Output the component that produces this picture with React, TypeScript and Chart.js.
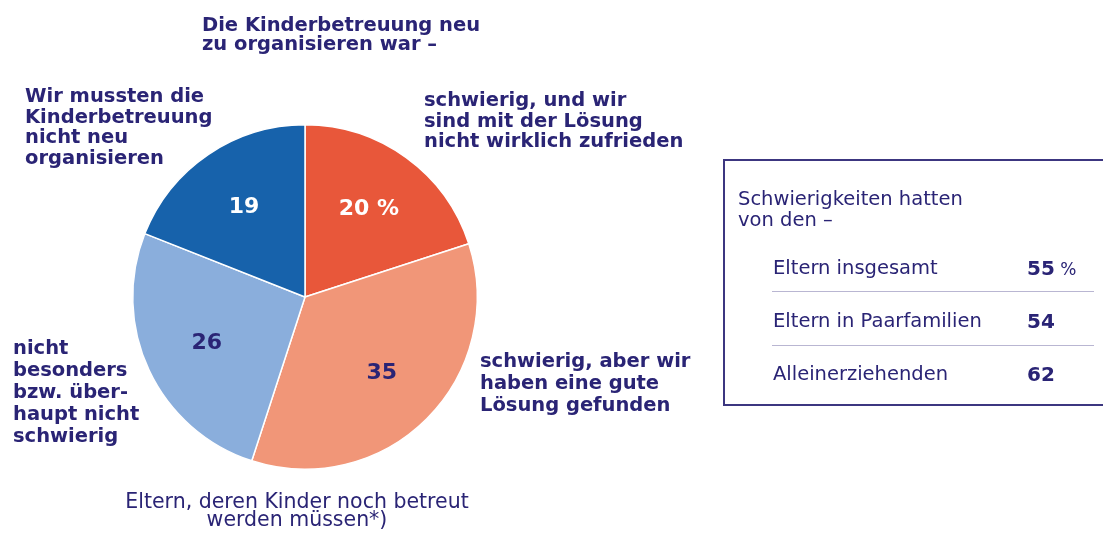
import React, { useEffect, useRef } from "react";
import { Chart, registerables } from "chart.js";

Chart.register(...registerables);

// ---- data ----
const categories = [
  "schwierig, und wir sind mit der Lösung nicht wirklich zufrieden",
  "schwierig, aber wir haben eine gute Lösung gefunden",
  "nicht besonders bzw. überhaupt nicht schwierig",
  "Wir mussten die Kinderbetreuung nicht neu organisieren",
];
const shares = [20, 35, 26, 19];
const shareUnit = [" %", "", "", ""];
const sliceColors = ["#E8573A", "#F19678", "#8AAEDC", "#1762AB"];
const sliceLabelColors = ["#ffffff", "#2A2475", "#2A2475", "#ffffff"];

const titleLines = ["Die Kinderbetreuung neu", "zu organisieren war –"];
const labelLines = [
  ["schwierig, und wir", "sind mit der Lösung", "nicht wirklich zufrieden"],
  ["schwierig, aber wir", "haben eine gute", "Lösung gefunden"],
  ["nicht", "besonders", "bzw. über-", "haupt nicht", "schwierig"],
  ["Wir mussten die", "Kinderbetreuung", "nicht neu", "organisieren"],
];
const captionLines = ["Eltern, deren Kinder noch betreut", "werden müssen*)"];

const boxTitleLines = ["Schwierigkeiten hatten", "von den –"];
const boxGroups = ["Eltern insgesamt", "Eltern in Paarfamilien", "Alleinerziehenden"];
const boxValues = [55, 54, 62];
const boxUnits = ["%", "", ""];

// ---- styles ----
const INK = "#2A2475";
const FONT = "'DejaVu Sans', sans-serif";

const labelPos = [
  { left: 424, top: 90, lh: 20.5 },
  { left: 480, top: 350, lh: 22 },
  { left: 13, top: 337, lh: 22 },
  { left: 25, top: 86, lh: 20.5 },
];

const sliceLabelPlugin = {
  id: "sliceLabels",
  afterDatasetsDraw(chart: any) {
    const meta = chart.getDatasetMeta(0);
    const ds = chart.data.datasets[0];
    const ctx = chart.ctx;
    ctx.save();
    ctx.font = `bold 22px ${FONT}`;
    ctx.textAlign = "center";
    ctx.textBaseline = "middle";
    meta.data.forEach((arc: any, i: number) => {
      const p = arc.getProps(["x", "y", "startAngle", "endAngle", "outerRadius"], true);
      const mid = (p.startAngle + p.endAngle) / 2;
      const r = p.outerRadius * 0.63;
      ctx.fillStyle = sliceLabelColors[i];
      ctx.fillText(String(ds.data[i]) + shareUnit[i], p.x + Math.cos(mid) * r, p.y + Math.sin(mid) * r);
    });
    ctx.restore();
  },
};

function PieChart() {
  const ref = useRef<HTMLCanvasElement | null>(null);
  useEffect(() => {
    if (!ref.current) return;
    const chart = new Chart(ref.current, {
      type: "pie",
      data: {
        labels: categories,
        datasets: [
          {
            data: shares,
            backgroundColor: sliceColors,
            borderColor: "#ffffff",
            borderWidth: 1.5,
            offset: 0,
            hoverOffset: 0,
          },
        ],
      },
      options: {
        responsive: false,
        animation: false,
        layout: { padding: { left: 132, top: 124, right: 625, bottom: 66 } },
        plugins: {
          legend: { display: false },
          tooltip: { enabled: false },
          title: { display: false },
        },
      },
      plugins: [sliceLabelPlugin],
    });
    return () => chart.destroy();
  }, []);
  return (
    <canvas
      ref={ref}
      width={1103}
      height={536}
      style={{ position: "absolute", left: 0, top: 0, width: 1103, height: 536 }}
    />
  );
}

export default function App() {
  const bold = { fontFamily: FONT, fontWeight: 700, fontSize: 19.5, color: INK, whiteSpace: "pre" as const };
  const regular = { fontFamily: FONT, fontWeight: 400, fontSize: 19.5, color: INK, whiteSpace: "pre" as const };
  return (
    <div
      style={{
        position: "absolute",
        left: 0,
        top: 0,
        width: 1103,
        height: 536,
        overflow: "hidden",
        background: "#ffffff",
      }}
    >
      <PieChart />
      <div style={{ ...bold, position: "absolute", left: 202, top: 15, lineHeight: "19px" }}>
        {titleLines.map((l, i) => (
          <div key={i}>{l}</div>
        ))}
      </div>
      {labelLines.map((lines, k) => (
        <div
          key={k}
          style={{
            ...bold,
            position: "absolute",
            left: labelPos[k].left,
            top: labelPos[k].top,
            lineHeight: labelPos[k].lh + "px",
          }}
        >
          {lines.map((l, i) => (
            <div key={i}>{l}</div>
          ))}
        </div>
      ))}
      <div
        style={{
          ...regular,
          fontSize: 20.5,
          position: "absolute",
          left: 97,
          width: 400,
          top: 492,
          lineHeight: "18px",
          textAlign: "center",
        }}
      >
        {captionLines.map((l, i) => (
          <div key={i}>{l}</div>
        ))}
      </div>
      <div
        style={{
          position: "absolute",
          left: 723,
          top: 159,
          width: 400,
          height: 247,
          boxSizing: "border-box",
          border: "2px solid #3C3680",
        }}
      />
      <div style={{ ...regular, position: "absolute", left: 738, top: 188, lineHeight: "21px" }}>
        {boxTitleLines.map((l, i) => (
          <div key={i}>{l}</div>
        ))}
      </div>
      {boxGroups.map((g, i) => (
        <React.Fragment key={i}>
          <div style={{ ...regular, position: "absolute", left: 773, top: 258 + i * 53, lineHeight: "20px" }}>{g}</div>
          <div style={{ ...bold, fontSize: 20, position: "absolute", left: 1027, top: 258 + i * 53, lineHeight: "20px" }}>
            {boxValues[i]}
            {boxUnits[i] ? (
              <span style={{ fontWeight: 400, fontSize: 17 }}>{" " + boxUnits[i]}</span>
            ) : null}
          </div>
          {i < boxGroups.length - 1 ? (
            <div
              style={{
                position: "absolute",
                left: 772,
                width: 322,
                top: 291 + i * 54,
                height: 0,
                borderTop: "1.5px solid #B9B6D2",
              }}
            />
          ) : null}
        </React.Fragment>
      ))}
    </div>
  );
}
